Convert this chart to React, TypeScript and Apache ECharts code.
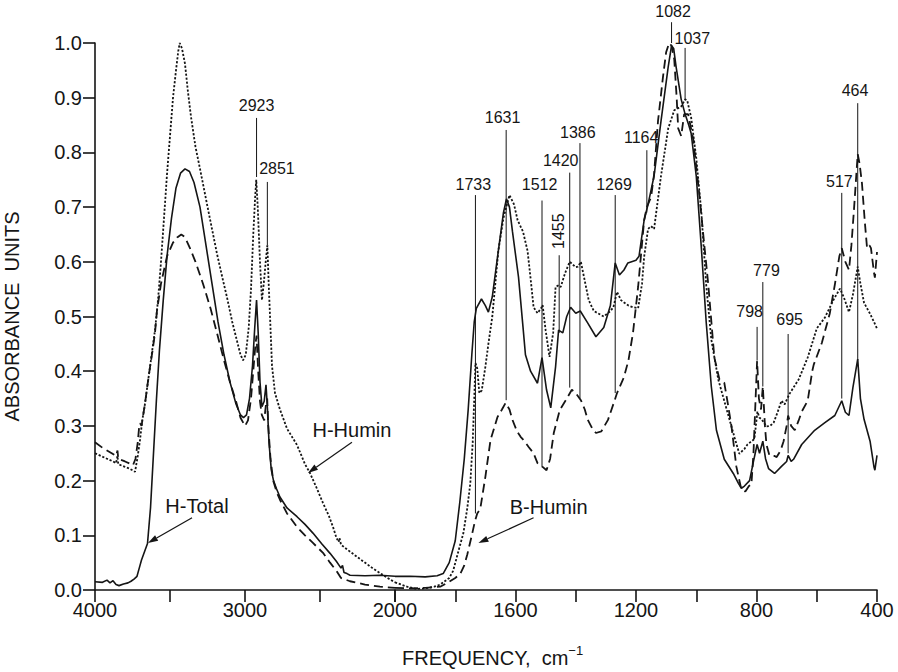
import React, { useEffect, useRef } from 'react';
import * as echarts from 'echarts';

// ---------- data ----------
const hTotalWn = [4000, 3950, 3920, 3900, 3880, 3860, 3840, 3810, 3780, 3760, 3740, 3720, 3705, 3690, 3670, 3650, 3630, 3610, 3590, 3570, 3545, 3520, 3490, 3460, 3430, 3400, 3370, 3340, 3300, 3260, 3220, 3180, 3140, 3100, 3060, 3030, 3010, 2990, 2970, 2950, 2935, 2923, 2912, 2900, 2887, 2872, 2860, 2850, 2840, 2825, 2810, 2790, 2767, 2720, 2653, 2600, 2547, 2490, 2433, 2390, 2360, 2350, 2340, 2320, 2300, 2200, 2100, 2050, 2000,
  1950, 1900, 1860, 1840, 1820, 1800, 1785, 1770, 1757, 1745, 1737, 1730, 1713, 1700, 1690, 1677, 1657, 1640, 1630, 1620, 1610, 1590, 1575, 1567, 1550, 1527, 1512, 1497, 1483, 1467, 1457, 1443, 1430, 1417, 1400, 1385, 1360, 1333, 1307, 1285, 1269, 1255, 1240, 1227, 1200, 1190, 1173, 1160, 1140, 1117, 1093, 1082, 1075, 1067, 1050, 1037, 1025, 1017, 1000, 983, 967, 950, 933, 907, 877, 860, 850, 840, 823, 810, 798, 790, 779, 770, 760, 740, 717, 700, 695, 685, 677, 650, 607, 573, 540, 517, 505, 493, 480, 464, 455, 443, 423, 410, 407, 400];
const hTotalAbs = [0.015, 0.014, 0.018, 0.013, 0.017, 0.01, 0.008, 0.011, 0.013, 0.016, 0.02, 0.025, 0.04, 0.055, 0.07, 0.085, 0.15, 0.25, 0.35, 0.44, 0.53, 0.61, 0.68, 0.735, 0.762, 0.77, 0.765, 0.745, 0.7, 0.63, 0.56, 0.49, 0.43, 0.38, 0.34, 0.32, 0.315, 0.32, 0.35, 0.41, 0.48, 0.53, 0.47, 0.38, 0.335, 0.345, 0.375, 0.33, 0.27, 0.22, 0.2, 0.185, 0.17, 0.15, 0.134, 0.12, 0.104, 0.085, 0.067, 0.052, 0.04, 0.045, 0.032, 0.03, 0.027, 0.026, 0.027, 0.026, 0.025,
  0.025, 0.024, 0.026, 0.03, 0.05, 0.09, 0.16, 0.24, 0.33, 0.43, 0.49, 0.515, 0.532, 0.52, 0.508, 0.536, 0.62, 0.69, 0.715, 0.7, 0.655, 0.572, 0.48, 0.43, 0.4, 0.378, 0.425, 0.366, 0.333, 0.408, 0.475, 0.47, 0.5, 0.517, 0.506, 0.51, 0.488, 0.463, 0.48, 0.52, 0.598, 0.576, 0.585, 0.598, 0.603, 0.61, 0.676, 0.705, 0.757, 0.857, 0.957, 0.995, 0.99, 0.957, 0.897, 0.87, 0.85, 0.835, 0.757, 0.625, 0.49, 0.372, 0.292, 0.239, 0.213, 0.195, 0.186, 0.19, 0.2, 0.235, 0.266, 0.25, 0.272, 0.24, 0.222, 0.213, 0.226, 0.235, 0.246, 0.235, 0.239, 0.266, 0.292, 0.306, 0.319, 0.346, 0.325, 0.319, 0.37, 0.422, 0.35, 0.312, 0.272, 0.225, 0.219, 0.246];

const hHuminWn = [4000, 3960, 3920, 3880, 3860, 3850, 3845, 3800, 3770, 3745, 3733, 3715, 3700, 3685, 3667, 3650, 3633, 3615, 3600, 3580, 3560, 3540, 3520, 3500, 3480, 3460, 3445, 3435, 3420, 3400, 3380, 3360, 3330, 3300, 3253, 3220, 3187, 3150, 3120, 3085, 3053, 3030, 3013, 2995, 2975, 2960, 2945, 2932, 2925, 2915, 2900, 2887, 2875, 2862, 2851, 2842, 2833, 2820, 2800, 2767, 2720, 2653, 2600, 2567, 2520, 2480, 2440, 2413, 2390, 2375, 2370, 2360, 2333, 2250, 2150, 2050, 2000,
  1960, 1930, 1900, 1870, 1850, 1820, 1807, 1790, 1773, 1760, 1750, 1742, 1737, 1733, 1727, 1720, 1712, 1700, 1690, 1677, 1657, 1640, 1633, 1620, 1605, 1593, 1575, 1560, 1550, 1540, 1527, 1515, 1510, 1500, 1487, 1475, 1467, 1457, 1450, 1435, 1420, 1400, 1393, 1383, 1370, 1357, 1340, 1327, 1307, 1285, 1275, 1263, 1250, 1243, 1225, 1210, 1193, 1180, 1173, 1160, 1150, 1140, 1117, 1093, 1073, 1050, 1037, 1030, 1017, 1000, 983, 967, 950, 927, 900, 873, 857, 840, 830, 807, 797, 790, 783, 767, 755, 743, 730, 717, 707, 690, 660, 630, 600, 573, 543, 523, 510, 493, 480, 464, 455, 443, 423, 410, 400];
const hHuminAbs = [0.25, 0.245, 0.24, 0.235, 0.232, 0.245, 0.23, 0.225, 0.222, 0.218, 0.216, 0.245, 0.274, 0.31, 0.34, 0.375, 0.408, 0.445, 0.475, 0.53, 0.6, 0.68, 0.76, 0.83, 0.9, 0.95, 0.985, 1.0, 0.99, 0.962, 0.91, 0.865, 0.81, 0.77, 0.705, 0.66, 0.615, 0.57, 0.535, 0.49, 0.455, 0.43, 0.42, 0.43, 0.48, 0.55, 0.65, 0.72, 0.75, 0.7, 0.6, 0.53, 0.56, 0.6, 0.63, 0.56, 0.5, 0.41, 0.36, 0.33, 0.295, 0.265, 0.23, 0.214, 0.185, 0.159, 0.135, 0.115, 0.095, 0.088, 0.095, 0.083, 0.077, 0.06, 0.04, 0.022, 0.014,
  0.006, 0.002, 0.003, 0.006, 0.01, 0.022, 0.035, 0.07, 0.104, 0.15, 0.195, 0.27, 0.35, 0.415, 0.405, 0.36, 0.365, 0.408, 0.45, 0.5, 0.62, 0.68, 0.695, 0.722, 0.705, 0.676, 0.655, 0.62, 0.57, 0.517, 0.506, 0.515, 0.521, 0.475, 0.426, 0.47, 0.554, 0.557, 0.554, 0.58, 0.6, 0.59, 0.591, 0.6, 0.565, 0.53, 0.51, 0.506, 0.5, 0.51, 0.517, 0.545, 0.53, 0.527, 0.52, 0.517, 0.515, 0.56, 0.609, 0.66, 0.665, 0.66, 0.757, 0.844, 0.877, 0.884, 0.897, 0.895, 0.864, 0.79, 0.69, 0.558, 0.458, 0.385, 0.332, 0.279, 0.249, 0.258, 0.266, 0.276, 0.326, 0.315, 0.312, 0.299, 0.3, 0.306, 0.325, 0.346, 0.339, 0.359, 0.385, 0.425, 0.478, 0.498, 0.532, 0.551, 0.535, 0.508, 0.54, 0.591, 0.56, 0.525, 0.505, 0.49, 0.478];

const bHuminWn = [4000, 3950, 3900, 3860, 3850, 3845, 3800, 3760, 3747, 3730, 3715, 3705, 3700, 3690, 3667, 3650, 3633, 3615, 3600, 3587, 3560, 3520, 3480, 3450, 3425, 3400, 3367, 3330, 3280, 3230, 3187, 3140, 3100, 3060, 3030, 3000, 2980, 2960, 2945, 2930, 2923, 2912, 2900, 2888, 2872, 2860, 2852, 2845, 2830, 2812, 2790, 2767, 2720, 2653, 2600, 2547, 2480, 2433, 2390, 2360, 2340, 2300, 2200, 2100, 2000,
  1950, 1900, 1850, 1827, 1800, 1783, 1770, 1760, 1745, 1735, 1727, 1717, 1700, 1683, 1660, 1645, 1633, 1620, 1610, 1595, 1583, 1570, 1557, 1540, 1527, 1510, 1497, 1485, 1473, 1453, 1433, 1413, 1400, 1383, 1370, 1360, 1345, 1333, 1315, 1293, 1275, 1263, 1240, 1225, 1210, 1193, 1173, 1164, 1150, 1140, 1127, 1110, 1100, 1090, 1082, 1073, 1065, 1060, 1050, 1040, 1027, 1010, 990, 975, 960, 940, 923, 907, 895, 883, 867, 850, 837, 825, 817, 810, 803, 798, 792, 785, 779, 772, 767, 757, 740, 733, 720, 710, 700, 695, 685, 673, 660, 650, 630, 615, 610, 583, 557, 540, 525, 517, 505, 493, 485, 477, 464, 458, 450, 440, 433, 425, 420, 410, 407, 400];
const bHuminAbs = [0.27, 0.26, 0.252, 0.245, 0.255, 0.24, 0.235, 0.23, 0.228, 0.24, 0.27, 0.3, 0.305, 0.3, 0.34, 0.375, 0.408, 0.44, 0.47, 0.51, 0.56, 0.61, 0.635, 0.645, 0.65, 0.645, 0.625, 0.6, 0.56, 0.515, 0.47, 0.42, 0.38, 0.345, 0.315, 0.3, 0.31, 0.35, 0.4, 0.45, 0.465, 0.4, 0.345, 0.32, 0.31, 0.34, 0.35, 0.3, 0.24, 0.2, 0.18, 0.165, 0.14, 0.115, 0.1, 0.086, 0.068, 0.05, 0.035, 0.022, 0.02, 0.016, 0.01, 0.006, 0.004,
  0.003, 0.004, 0.006, 0.013, 0.022, 0.03, 0.045, 0.065, 0.1, 0.125, 0.14, 0.148, 0.207, 0.274, 0.316, 0.33, 0.342, 0.33, 0.311, 0.29, 0.28, 0.272, 0.262, 0.25, 0.232, 0.225, 0.219, 0.24, 0.287, 0.329, 0.347, 0.366, 0.36, 0.347, 0.33, 0.311, 0.295, 0.287, 0.29, 0.311, 0.34, 0.36, 0.389, 0.42, 0.47, 0.554, 0.676, 0.7, 0.718, 0.76, 0.857, 0.94, 0.983, 1.0, 0.995, 0.97, 0.9, 0.844, 0.83, 0.87, 0.87, 0.824, 0.724, 0.64, 0.558, 0.425, 0.385, 0.379, 0.34, 0.299, 0.226, 0.183, 0.18, 0.19, 0.193, 0.25, 0.35, 0.419, 0.35, 0.33, 0.372, 0.3, 0.266, 0.246, 0.245, 0.243, 0.255, 0.272, 0.3, 0.319, 0.3, 0.292, 0.31, 0.326, 0.346, 0.4, 0.412, 0.452, 0.505, 0.558, 0.61, 0.625, 0.6, 0.585, 0.63, 0.691, 0.797, 0.78, 0.744, 0.67, 0.625, 0.63, 0.625, 0.58, 0.571, 0.618];

// peak annotations
const peakText = ['2923', '2851', '1733', '1631', '1512', '1455', '1420', '1386', '1269', '1164', '1082', '1037', '798', '779', '695', '517', '464'];
const peakLabelWn = [2923, 2787, 1740, 1643, 1520, 1457, 1450, 1393, 1273, 1183, 1077, 1013, 823, 767, 690, 525, 473];
const peakLabelAbs = [0.885, 0.771, 0.742, 0.863, 0.742, 0.656, 0.786, 0.837, 0.742, 0.828, 1.058, 1.009, 0.51, 0.585, 0.494, 0.746, 0.914];
const peakLineTop = [0.863, 0.746, 0.722, 0.841, 0.712, 0.612, 0.763, 0.817, 0.722, 0.804, 1.038, 0.991, 0.481, 0.563, 0.468, 0.726, 0.89];
const peakLineBottom = [0.755, 0.63, 0.14, 0.347, 0.225, 0.47, 0.37, 0.35, 0.36, 0.69, 1.0, 0.895, 0.42, 0.372, 0.25, 0.35, 0.42];
const peakVertical = [false, false, false, false, false, true, false, false, false, false, false, false, false, false, false, false, false];

// callouts
const calloutText = ['H-Total', 'H-Humin', 'B-Humin'];
const calloutTextWn = [3320, 2287, 1490];
const calloutTextAbs = [0.154, 0.293, 0.152];
const calloutFromWn = [3353, 2287, 1540];
const calloutFromAbs = [0.132, 0.27, 0.132];
const calloutToWn = [3647, 2580, 1723];
const calloutToAbs = [0.086, 0.214, 0.086];

const xTickLabels = [4000, 3000, 2000, 1600, 1200, 800, 400];

// ---------- helpers ----------
const FONT = "'Liberation Sans', Arial, Helvetica, sans-serif";
const INK = '#151515';

function pairs(wn: number[], ab: number[], high: boolean) {
  const out: number[][] = [];
  for (let i = 0; i < wn.length; i++) {
    if (high ? wn[i] >= 2000 : wn[i] <= 2000) out.push([wn[i], ab[i]]);
  }
  return out;
}

function peakRender(params: any, api: any) {
  const i = api.value(2);
  const p = api.coord([api.value(0), api.value(1)]);
  const t = api.coord([Number(peakText[i]), peakLineTop[i]]);
  const b = api.coord([Number(peakText[i]), peakLineBottom[i]]);
  const vertical = peakVertical[i];
  return {
    type: 'group',
    children: [
      {
        type: 'line',
        shape: { x1: t[0], y1: t[1], x2: b[0], y2: b[1] },
        style: { stroke: INK, lineWidth: 1 },
      },
      {
        type: 'text',
        x: p[0],
        y: p[1],
        rotation: vertical ? Math.PI / 2 : 0,
        style: {
          text: peakText[i],
          x: 0,
          y: 0,
          fill: INK,
          font: `16px ${FONT}`,
          align: 'center',
          verticalAlign: 'middle',
          textAlign: 'center',
          textVerticalAlign: 'middle',
        },
      },
    ],
  };
}

function calloutRender(params: any, api: any) {
  const i = api.value(2);
  const p = api.coord([api.value(0), api.value(1)]);
  const f = api.coord([calloutFromWn[i], calloutFromAbs[i]]);
  const t = api.coord([calloutToWn[i], calloutToAbs[i]]);
  const dx = t[0] - f[0];
  const dy = t[1] - f[1];
  const len = Math.sqrt(dx * dx + dy * dy) || 1;
  const ux = dx / len;
  const uy = dy / len;
  const hl = 10;
  const hw = 3.2;
  const bx = t[0] - ux * hl;
  const by = t[1] - uy * hl;
  return {
    type: 'group',
    children: [
      {
        type: 'line',
        shape: { x1: f[0], y1: f[1], x2: bx, y2: by },
        style: { stroke: INK, lineWidth: 1.2 },
      },
      {
        type: 'polygon',
        shape: {
          points: [
            [t[0], t[1]],
            [bx - uy * hw, by + ux * hw],
            [bx + uy * hw, by - ux * hw],
          ],
        },
        style: { fill: INK },
      },
      {
        type: 'text',
        x: p[0],
        y: p[1],
        style: {
          text: calloutText[i],
          x: 0,
          y: 0,
          fill: INK,
          font: `20px ${FONT}`,
          align: 'center',
          verticalAlign: 'middle',
          textAlign: 'center',
          textVerticalAlign: 'middle',
        },
      },
    ],
  };
}

function buildOption() {
  const solidStyle = { color: INK, width: 1.6, type: 'solid' as any };
  const dottedStyle = { color: INK, width: 1.8, type: [2.2, 1.8] as any };
  const dashedStyle = { color: INK, width: 1.8, type: [9, 5] as any };

  const lineSeries: any[] = [];
  [0, 1].forEach((g) => {
    const high = g === 0;
    const common = {
      type: 'line',
      xAxisIndex: g,
      yAxisIndex: g,
      showSymbol: false,
      symbol: 'none',
      silent: true,
      z: 2,
    };
    lineSeries.push({ ...common, name: 'H-Total', data: pairs(hTotalWn, hTotalAbs, high), lineStyle: solidStyle });
    lineSeries.push({ ...common, name: 'H-Humin', data: pairs(hHuminWn, hHuminAbs, high), lineStyle: dottedStyle });
    lineSeries.push({ ...common, name: 'B-Humin', data: pairs(bHuminWn, bHuminAbs, high), lineStyle: dashedStyle });
  });

  const peakData = [[], []] as number[][][];
  peakText.forEach((txt, i) => {
    const g = Number(txt) >= 2000 ? 0 : 1;
    peakData[g].push([peakLabelWn[i], peakLabelAbs[i], i]);
  });
  const calloutData = [[], []] as number[][][];
  calloutText.forEach((_, i) => {
    const g = calloutToWn[i] >= 2000 ? 0 : 1;
    calloutData[g].push([calloutTextWn[i], calloutTextAbs[i], i]);
  });

  const annotSeries: any[] = [];
  [0, 1].forEach((g) => {
    annotSeries.push({
      type: 'custom',
      xAxisIndex: g,
      yAxisIndex: g,
      clip: false,
      silent: true,
      z: 5,
      data: peakData[g],
      renderItem: peakRender,
    });
    annotSeries.push({
      type: 'custom',
      xAxisIndex: g,
      yAxisIndex: g,
      clip: false,
      silent: true,
      z: 5,
      data: calloutData[g],
      renderItem: calloutRender,
    });
  });

  const axisLine = { show: true, lineStyle: { color: INK, width: 1.6 } };
  const axisTick = { show: true, inside: false, length: 12, lineStyle: { color: INK, width: 1.6 } };
  const xLabel = {
    show: true,
    interval: 0,
    showMinLabel: true,
    showMaxLabel: true,
    margin: 10,
    color: INK,
    fontSize: 20,
    fontFamily: FONT,
  };

  return {
    animation: false,
    backgroundColor: '#ffffff',
    textStyle: { fontFamily: FONT, color: INK },
    grid: [
      { left: 95, top: 43, width: 300, height: 547, containLabel: false },
      { left: 395, top: 43, width: 482, height: 547, containLabel: false },
    ],
    xAxis: [
      {
        type: 'value',
        gridIndex: 0,
        min: 2000,
        max: 4000,
        interval: 500,
        inverse: true,
        axisLine,
        axisTick,
        splitLine: { show: false },
        axisLabel: {
          ...xLabel,
          formatter: (v: number) => (xTickLabels.includes(v) && v !== 2000 ? String(v) : ''),
        },
      },
      {
        type: 'value',
        gridIndex: 1,
        min: 400,
        max: 2000,
        interval: 200,
        inverse: true,
        axisLine,
        axisTick,
        splitLine: { show: false },
        axisLabel: {
          ...xLabel,
          formatter: (v: number) => (xTickLabels.includes(v) ? String(v) : ''),
        },
      },
    ],
    yAxis: [
      {
        type: 'value',
        gridIndex: 0,
        min: 0,
        max: 1,
        interval: 0.1,
        axisLine,
        axisTick,
        splitLine: { show: false },
        axisLabel: {
          show: true,
          margin: 13,
          color: INK,
          fontSize: 20,
          fontFamily: FONT,
          formatter: (v: number) => v.toFixed(1),
        },
        name: 'ABSORBANCE  UNITS',
        nameLocation: 'middle',
        nameRotate: 90,
        nameGap: 73,
        nameTextStyle: { fontSize: 20, fontFamily: FONT, color: INK },
      },
      {
        type: 'value',
        gridIndex: 1,
        min: 0,
        max: 1,
        show: false,
        splitLine: { show: false },
      },
    ],
    graphic: [
      {
        type: 'text',
        left: 402,
        top: 644,
        silent: true,
        style: {
          text: '{a|FREQUENCY,  cm}{b|−1}',
          fill: INK,
          rich: {
            a: { fontSize: 20, fontFamily: FONT, color: INK, lineHeight: 24, verticalAlign: 'bottom' },
            b: { fontSize: 13, fontFamily: FONT, color: INK, verticalAlign: 'top' },
          },
        },
      },
    ],
    series: [...lineSeries, ...annotSeries],
  };
}

export default function App() {
  const ref = useRef<HTMLDivElement>(null);
  useEffect(() => {
    if (!ref.current) return;
    const chart = echarts.init(ref.current, null, { renderer: 'svg' });
    chart.setOption(buildOption() as any);
    return () => {
      chart.dispose();
    };
  }, []);
  return (
    <div
      ref={ref}
      style={{ position: 'fixed', left: 0, top: 0, width: 898, height: 672, background: '#ffffff' }}
    />
  );
}
